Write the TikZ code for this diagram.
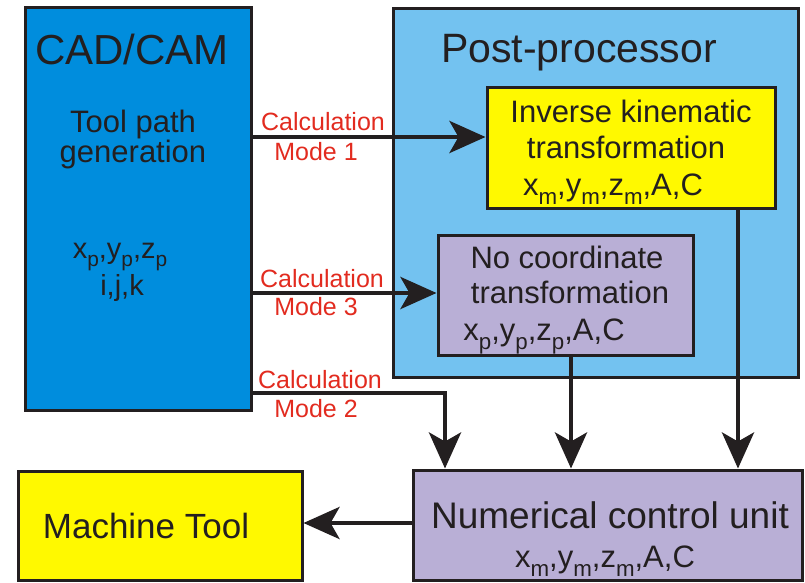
\documentclass[tikz,border=0pt]{standalone}
\usepackage{fontspec}
\setmainfont{Liberation Sans}
\usepackage{graphicx}
\usetikzlibrary{arrows.meta}
\definecolor{cadblue}{HTML}{008DDD}
\definecolor{postblue}{HTML}{73C2F0}
\definecolor{boxyellow}{HTML}{FFF900}
\definecolor{lavender}{HTML}{B9AFD6}
\definecolor{labred}{HTML}{E22B1F}
\definecolor{linec}{HTML}{231F20}
\newcommand\sbs[2]{#1\raisebox{-0.3em}{\scalebox{0.72}{#2}}}
\newcommand\fs[1]{\fontsize{#1}{#1}\selectfont}
\begin{document}
\begin{tikzpicture}[x=1pt,y=-1pt,
  box/.style={draw=linec, line width=3pt, inner sep=0pt},
  txt/.style={anchor=base, inner sep=0pt, text=linec},
  lab/.style={anchor=base, inner sep=0pt, text=labred, font=\fs{25}},
  arr/.style={draw=linec, line width=4.5pt, -{Stealth[length=36pt, width=32pt, inset=9pt]}},
  con/.style={draw=linec, line width=4.5pt}]
\useasboundingbox (0,0) rectangle (805,583);
% boxes
\node[box, fill=cadblue, minimum width=226pt, minimum height=402pt] (cad) at (138,209) {};
\node[box, fill=postblue, minimum width=405pt, minimum height=368pt] (post) at (595.5,193) {};
\node[box, fill=boxyellow, minimum width=288pt, minimum height=120pt] (inv) at (631,148) {};
\node[box, fill=lavender, minimum width=255pt, minimum height=120pt] (noc) at (565.5,295) {};
\node[box, fill=lavender, minimum width=389pt, minimum height=110pt] (ncu) at (607.5,525) {};
\node[box, fill=boxyellow, minimum width=284pt, minimum height=109pt] (mt) at (160,525.5) {};
% texts
\node[txt, font=\fs{42}] (tcad) at (132,65) {CAD/CAM};
\node[txt, font=\fs{31}] (ttool) at (133,132) {Tool path};
\node[txt, font=\fs{31}] (tgen) at (133,162) {generation};
\node[txt, font=\fs{29}] (txp) at (120,258) {\sbs{x}{p},\sbs{y}{p},\sbs{z}{p}};
\node[txt, font=\fs{29}] (tijk) at (122,295) {i,j,k};
\node[txt, font=\fs{41}] (tpost) at (579,63) {Post-processor};
\node[txt, font=\fs{31}] (tinv1) at (631,122) {Inverse kinematic};
\node[txt, font=\fs{31}] (tinv2) at (626,158) {transformation};
\node[txt, font=\fs{31}] (tinv3) at (613,195) {\sbs{x}{m},\sbs{y}{m},\sbs{z}{m},A,C};
\node[txt, font=\fs{31}] (tnoc1) at (567,268) {No coordinate};
\node[txt, font=\fs{31}] (tnoc2) at (570,303) {transformation};
\node[txt, font=\fs{31}] (tnoc3) at (544,340) {\sbs{x}{p},\sbs{y}{p},\sbs{z}{p},A,C};
\node[txt, font=\fs{37}] (tncu1) at (610,528) {Numerical control unit};
\node[txt, font=\fs{31}] (tncu2) at (605,567) {\sbs{x}{m},\sbs{y}{m},\sbs{z}{m},A,C};
\node[txt, font=\fs{35}] (tmt) at (146,538) {Machine Tool};
% labels
\node[lab] (l1a) at (323,130) {Calculation};
\node[lab] (l1b) at (316,160) {Mode 1};
\node[lab] (l3a) at (322,287) {Calculation};
\node[lab] (l3b) at (316,315) {Mode 3};
\node[lab] (l2a) at (320,388) {Calculation};
\node[lab] (l2b) at (316,417) {Mode 2};
% connectors
\coordinate (m1) at (0,137);
\coordinate (m3) at (0,293);
\coordinate (m2) at (445,393);
\coordinate (c1) at (571,0);
\coordinate (c2) at (738,0);
\coordinate (m4) at (0,523);
\draw[arr] (cad.east |- m1) -- (inv.west |- m1);
\draw[arr] (cad.east |- m3) -- (noc.west |- m3);
\draw[arr] (cad.east |- m2) -- (m2) -- (m2 |- ncu.north);
\draw[arr] (c1 |- noc.south) -- (c1 |- ncu.north);
\draw[arr] (c2 |- inv.south) -- (c2 |- ncu.north);
\draw[arr] (ncu.west |- m4) -- (mt.east |- m4);
\end{tikzpicture}
\end{document}
